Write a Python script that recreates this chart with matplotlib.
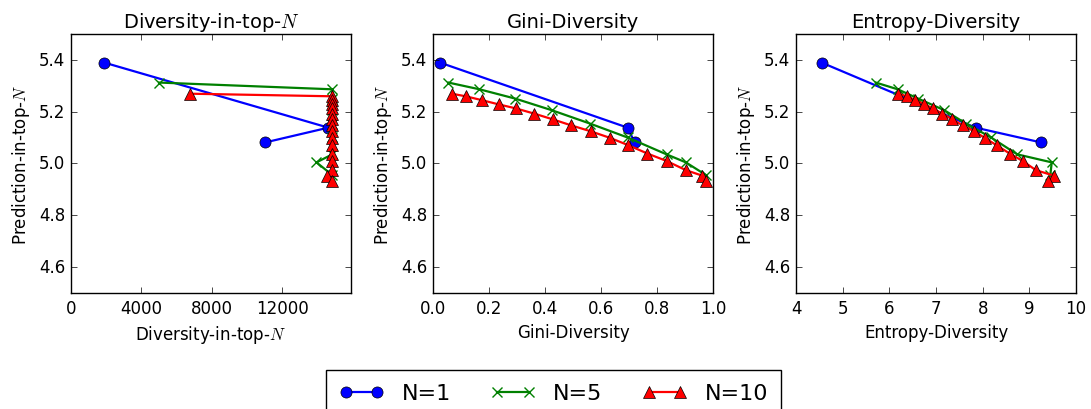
import numpy as np
import matplotlib
matplotlib.use("Agg")
import matplotlib.pyplot as plt

plt.style.use("classic")

# y values (prediction-in-top-N) per series
y1 = [5.389, 5.138, 5.081]
y5 = [5.312, 5.286, 5.250, 5.205, 5.154, 5.100, 5.035, 5.004, 4.955]
y10 = [5.269, 5.259, 5.244, 5.228, 5.212, 5.192, 5.170, 5.147, 5.124,
       5.099, 5.070, 5.038, 5.009, 4.974, 4.953, 4.932]

# diversity-in-top-N
div1 = [1890, 14610, 11030]
div5 = [5000, 14840, 14840, 14840, 14840, 14840, 14840, 13940, 14840]
div10 = [6760, 14840, 14840, 14840, 14840, 14840, 14840, 14840, 14840,
         14840, 14840, 14840, 14840, 14840, 14510, 14840]

# gini diversity
gini1 = [0.025, 0.695, 0.72]
gini5 = [0.055, 0.166, 0.294, 0.425, 0.56, 0.695, 0.834, 0.903, 0.975]
gini10 = [0.067, 0.117, 0.175, 0.234, 0.297, 0.362, 0.428, 0.493, 0.563,
          0.631, 0.698, 0.766, 0.835, 0.903, 0.961, 0.975]

# entropy diversity
ent1 = [4.55, 7.85, 9.25]
ent5 = [5.71, 6.18, 6.62, 7.18, 7.64, 8.18, 8.74, 9.48, 9.45]
ent10 = [6.18, 6.38, 6.56, 6.75, 6.94, 7.13, 7.35, 7.57, 7.82,
         8.04, 8.30, 8.58, 8.86, 9.14, 9.52, 9.40]

labels = ["N=1", "N=5", "N=10"]
titles = ["Diversity-in-top-$N$", "Gini-Diversity", "Entropy-Diversity"]

fig = plt.figure(figsize=(10.91, 4.10), dpi=100, facecolor="white")
lefts = [71 / 1091, 433 / 1091, 796 / 1091]
w = 280 / 1091

panels = [(div1, div5, div10), (gini1, gini5, gini10), (ent1, ent5, ent10)]
xlims = [(0, 15900), (0, 1), (4, 10)]
xticks = [[0, 4000, 8000, 12000], [0, 0.2, 0.4, 0.6, 0.8, 1.0], [4, 5, 6, 7, 8, 9, 10]]
xticklabels = [["0", "4000", "8000", "12000"],
               ["0.0", "0.2", "0.4", "0.6", "0.8", "1.0"],
               ["4", "5", "6", "7", "8", "9", "10"]]

lines = []
for i in range(3):
    ax = fig.add_axes([lefts[i], 0.283, w, 0.632])
    xa, xb, xc = panels[i]
    l1, = ax.plot(xa, y1, "o-", color="blue", lw=1.6, ms=8, mec="black", label=labels[0])
    l2, = ax.plot(xb, y5, "x-", color="green", lw=1.6, ms=7, mew=1.0, mec="green", label=labels[1])
    l3, = ax.plot(xc, y10, "^-", color="red", lw=1.6, ms=8.5, mec="black", label=labels[2])
    lines = [l1, l2, l3]
    ax.set_xlim(*xlims[i])
    ax.set_xticks(xticks[i])
    ax.set_xticklabels(xticklabels[i])
    ax.set_ylim(4.5, 5.5)
    ax.set_yticks([4.6, 4.8, 5.0, 5.2, 5.4])
    ax.set_yticklabels(["4.6", "4.8", "5.0", "5.2", "5.4"])
    ax.set_title(titles[i], fontsize=14)
    ax.set_xlabel(titles[i], fontsize=12)
    ax.set_ylabel("Prediction-in-top-$N$", fontsize=12)
    ax.tick_params(labelsize=12)

fig.legend(lines, labels, loc="upper left", bbox_to_anchor=(326 / 1091, 1 - 371 / 410),
           ncol=3, numpoints=2, fontsize=16, columnspacing=1.8, handletextpad=0.8,
           borderaxespad=0.0, borderpad=0.6)

fig.savefig("out.png", dpi=100, facecolor="white")
